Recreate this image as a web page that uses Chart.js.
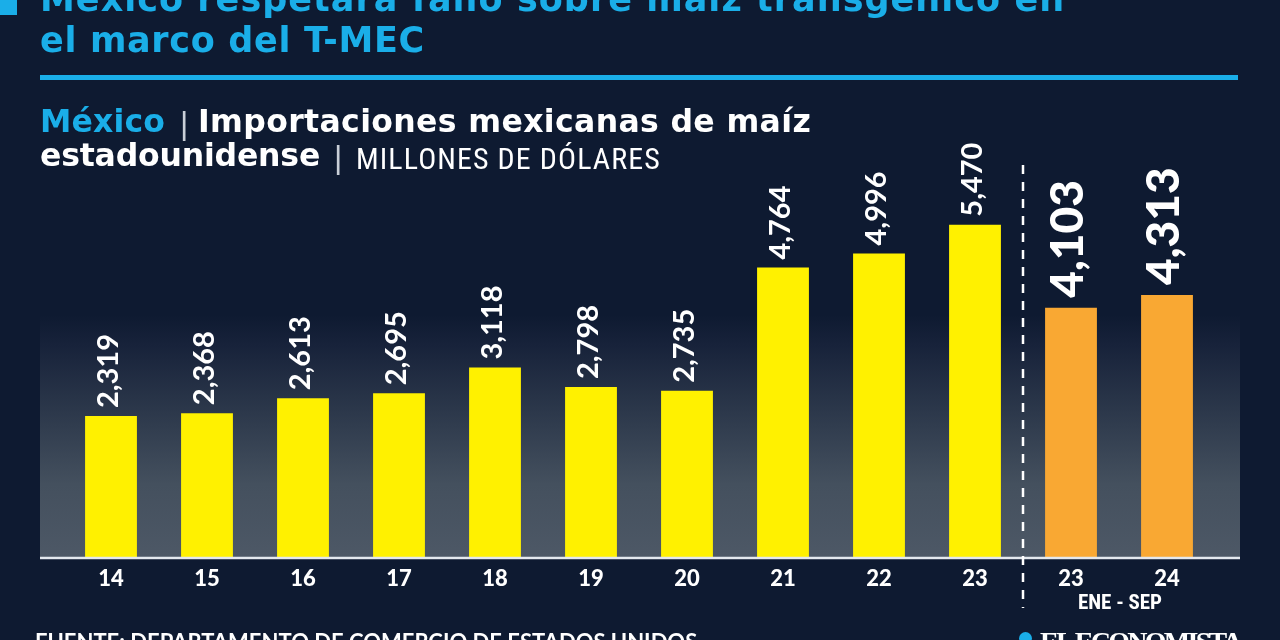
<!DOCTYPE html>
<html><head><meta charset="utf-8">
<script src="https://cdn.jsdelivr.net/npm/chart.js@4"></script>
<style>
html,body{margin:0;padding:0;background:#0e1a31;width:1280px;height:640px;overflow:hidden;}
#wrap{position:relative;width:1280px;height:640px;background:#0e1a31;}
canvas{position:absolute;left:0;top:0;}
.t{position:absolute;white-space:nowrap;line-height:1;}
.dj{font-family:"DejaVu Sans",Lato,sans-serif;font-weight:700;}
.nar{font-family:"Liberation Sans Narrow","Roboto Condensed",Roboto,sans-serif;}
#sq{position:absolute;left:0;top:0;width:17px;height:15px;background:#1aaee8;}
.title{font-size:35px;color:#1aaee8;left:40px;}
#title1{top:-18px;}
#title2{top:23px;}
#rule{position:absolute;left:40px;top:75px;width:1198px;height:5px;background:#1aaee8;}
.sub{font-size:31.5px;color:#ffffff;}
.blue{color:#1aaee8;}
.pipe{font-family:"Liberation Sans Narrow",sans-serif;font-weight:400;color:#c9cfd8;font-size:32px;}
.light{font-weight:400;font-size:30px;color:#fff;}
#ene{left:1078px;top:592px;font-weight:700;font-size:21px;color:#fff;}
#src{left:35px;top:631px;font-family:Lato,sans-serif;font-size:22px;font-weight:700;color:#fff;}
#logo{left:1040px;top:628px;font-family:"Liberation Serif",serif;font-weight:700;font-size:28px;color:#fff;}
#dot{position:absolute;left:1019px;top:632px;width:13px;height:13px;border-radius:50%;background:#1aaee8;}
</style></head><body>
<div id="wrap">
<canvas id="c" width="1280" height="640"></canvas>
<div id="sq"></div>
<div class="t dj title" id="title1" data-w="1025">México respetará fallo sobre maíz transgénico en</div>
<div class="t dj title" id="title2" data-w="385">el marco del T-MEC</div>
<div id="rule"></div>
<div class="t dj sub blue" style="left:40px;top:106px" data-w="125">México</div>
<div class="t pipe" style="left:180px;top:107px">|</div>
<div class="t dj sub" style="left:198px;top:106px" data-w="613">Importaciones mexicanas de maíz</div>
<div class="t dj sub" style="left:40px;top:140px" data-w="280">estadounidense</div>
<div class="t pipe" style="left:334px;top:141px">|</div>
<div class="t nar light" style="left:356px;top:144px" data-w="305">MILLONES DE DÓLARES</div>
<div class="t nar" id="ene" data-w="84">ENE - SEP</div>
<div class="t" id="src" data-w="662">FUENTE: DEPARTAMENTO DE COMERCIO DE ESTADOS UNIDOS</div>
<div id="dot"></div>
<div class="t" id="logo" data-w="200">EL ECONOMISTA</div>
</div>
<script>
const categories = ['14','15','16','17','18','19','20','21','22','23','23','24'];
const imports = [2319,2368,2613,2695,3118,2798,2735,4764,4996,5470,4103,4313];
const partialStart = 10; // first category of the ENE-SEP group

const YELLOW = '#fff100';
const ORANGE = '#f9a833';
const FONT = 'Lato, "Open Sans", sans-serif';

// fit text widths by letter-spacing
document.querySelectorAll('[data-w]').forEach(el => {
  const target = +el.dataset.w;
  const w = el.getBoundingClientRect().width;
  const n = el.textContent.length;
  el.style.letterSpacing = ((target - w) / n).toFixed(2) + 'px';
});

const deco = {
  id: 'deco',
  beforeDatasetsDraw(chart) {
    const {ctx, chartArea: a} = chart;
    const top = a.bottom - 242;
    const g = ctx.createLinearGradient(0, top, 0, a.bottom);
    g.addColorStop(0, 'rgba(14,26,49,1)');
    g.addColorStop(0.12, '#17223a');
    g.addColorStop(0.4, '#2c384b');
    g.addColorStop(0.7, '#44505e');
    g.addColorStop(1, '#4d5866');
    ctx.save();
    ctx.fillStyle = g;
    ctx.fillRect(40, top, 1200, a.bottom - top);
    ctx.restore();
  },
  afterDatasetsDraw(chart) {
    const {ctx, chartArea: a} = chart;
    const xs = chart.scales.x;
    ctx.save();
    ctx.strokeStyle = '#e4e8ee';
    ctx.lineWidth = 2.5;
    ctx.beginPath();
    ctx.moveTo(40, a.bottom + 1);
    ctx.lineTo(1240, a.bottom + 1);
    ctx.stroke();
    const xd = (xs.getPixelForValue(partialStart - 1) + xs.getPixelForValue(partialStart)) / 2;
    ctx.strokeStyle = '#ffffff';
    ctx.lineWidth = 2.5;
    ctx.setLineDash([9, 8]);
    ctx.beginPath();
    ctx.moveTo(xd, 165);
    ctx.lineTo(xd, 608);
    ctx.stroke();
    ctx.setLineDash([]);
    const meta = chart.getDatasetMeta(0);
    meta.data.forEach((bar, i) => {
      const big = i >= partialStart;
      ctx.save();
      ctx.translate(bar.x - (big ? 3 : 2), bar.y - (big ? 10 : 8));
      ctx.rotate(-Math.PI / 2);
      ctx.fillStyle = '#ffffff';
      ctx.font = (big ? '900 46px ' : '700 29px ') + FONT;
      ctx.textAlign = 'left';
      ctx.textBaseline = 'middle';
      ctx.fillText(imports[i].toLocaleString('en-US'), 0, 0);
      ctx.restore();
    });
    ctx.restore();
  }
};

new Chart(document.getElementById('c'), {
  type: 'bar',
  data: {
    labels: categories,
    datasets: [{
      data: imports,
      backgroundColor: imports.map((v, i) => i >= partialStart ? ORANGE : YELLOW),
      borderWidth: 0,
      categoryPercentage: 0.54,
      barPercentage: 1
    }]
  },
  options: {
    responsive: false,
    animation: false,
    layout: {padding: {left: 63, right: 65, top: 180, bottom: 0}},
    plugins: {legend: {display: false}, tooltip: {enabled: false}},
    scales: {
      y: {display: false, min: 0, max: 6205},
      x: {
        grid: {display: false, drawTicks: false},
        border: {display: false},
        ticks: {color: '#ffffff', font: {family: FONT, weight: '900', size: 22}, padding: 9},
        afterFit(scale) { scale.height = 83; }
      }
    }
  },
  plugins: [deco]
});
</script>
</body></html>
